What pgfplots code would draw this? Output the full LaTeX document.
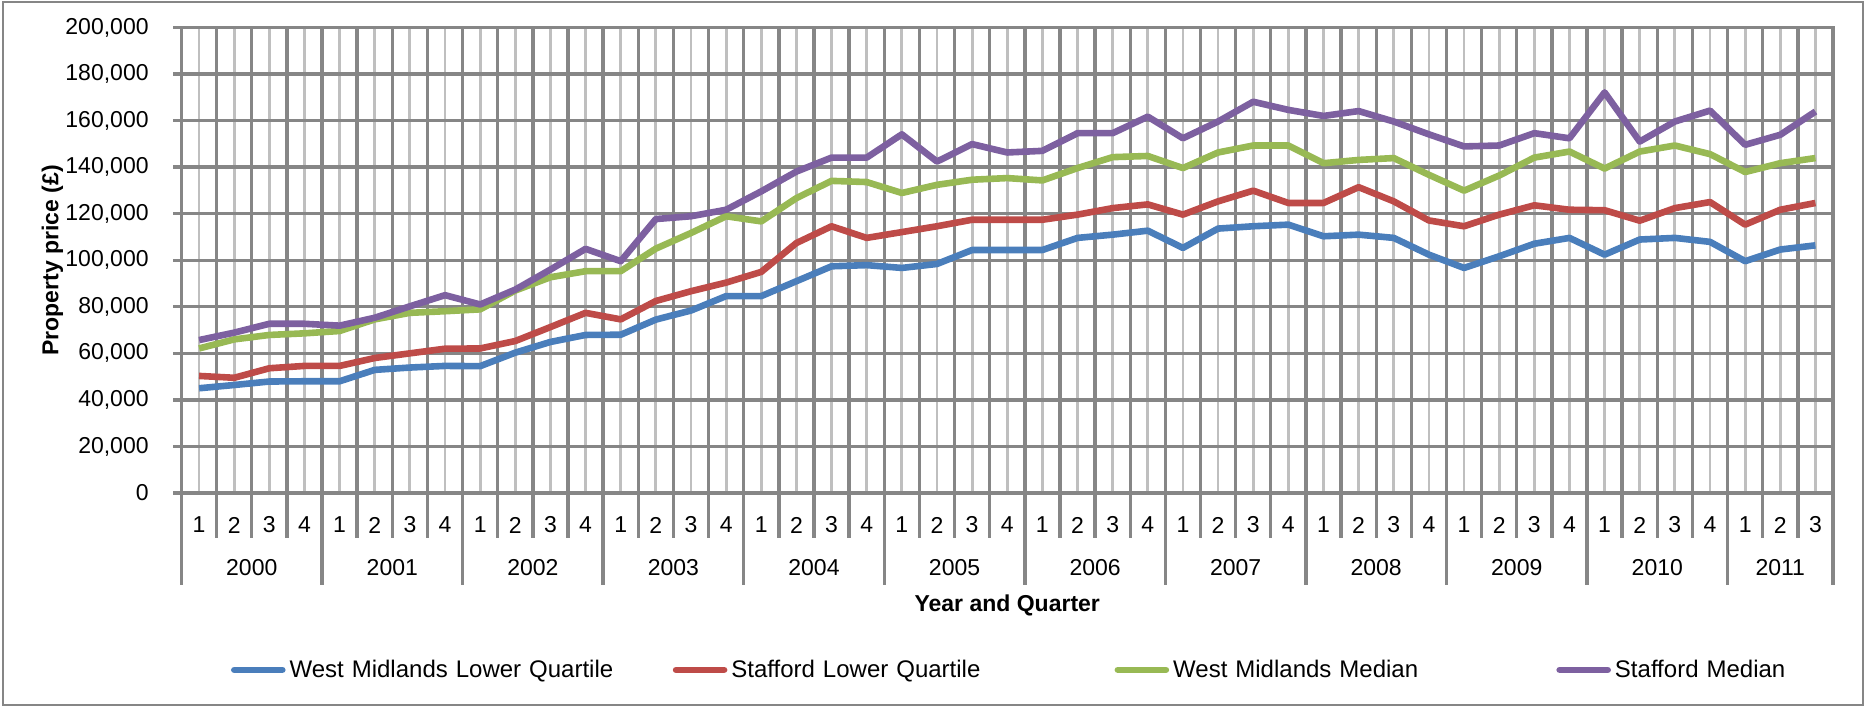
\documentclass[border=0pt]{standalone}
\usepackage{fontspec}
\setmainfont{Liberation Sans}
\usepackage{pgfplots}
\usepackage{pgfplotstable}
\pgfplotsset{compat=1.18}
\definecolor{cBlue}{HTML}{4A7EBB}
\definecolor{cRed}{HTML}{BE4B48}
\definecolor{cGreen}{HTML}{98B954}
\definecolor{cPurple}{HTML}{7D60A0}
\definecolor{gridDark}{HTML}{868686}
\definecolor{gridLight}{HTML}{BFBFBF}

\pgfplotstableread{
i wmlq slq wmmed smed
0 45000 50300 62100 65700
1 46400 49500 66000 68900
2 47900 53600 67900 72700
3 48000 54600 68600 72700
4 48000 54600 69600 71900
5 52900 58000 74600 75300
6 53900 60000 77400 80200
7 54600 62000 78100 85000
8 54500 62100 78900 81000
9 60300 65300 87000 87400
10 64900 71300 92700 96000
11 67900 77400 95300 104900
12 68000 74600 95300 99600
13 74500 82500 105000 117700
14 78400 86700 111700 118900
15 84600 90400 118900 121700
16 84600 95000 116700 129600
17 91000 107400 126700 138100
18 97400 114600 134100 144100
19 97900 109600 133600 144100
20 96700 112100 128900 154100
21 98400 114600 132400 142400
22 104400 117400 134600 149900
23 104400 117400 135300 146300
24 104400 117400 134300 147000
25 109600 119600 139600 154600
26 111000 122400 144300 154600
27 112700 124000 144800 161700
28 105300 119600 139600 152400
29 113600 125300 146300 159600
30 114600 129900 149300 168100
31 115300 124600 149300 164600
32 110300 124600 141700 162000
33 111000 131400 143100 164100
34 109600 125300 143900 159600
35 102400 117100 136700 154100
36 96700 114600 129900 148900
37 101700 119600 136400 149300
38 107100 123600 144100 154600
39 109600 121700 146700 152400
40 102400 121500 139400 172100
41 108900 117000 146700 151000
42 109600 122400 149300 159600
43 107900 125000 145600 164300
44 99600 115300 137900 149600
45 104600 121700 141700 153900
46 106400 124600 143900 163900
}\datatable

\begin{document}
\begin{tikzpicture}
\path[use as bounding box] (0,0) rectangle (932.5pt,353.5pt);
\draw[gridDark, line width=1.3pt] (1.5pt,1pt) rectangle (931.5pt,352.5pt);
\begin{axis}[
  at={(90.75pt,107pt)}, anchor=south west,
  scale only axis, width=825.75pt, height=232.75pt,
  xmin=-0.5, xmax=46.5, ymin=0, ymax=200000,
  clip mode=individual,
  font=\fontsize{11.5}{13.8}\selectfont,
  /pgf/number format/assume math mode=true,
  xtick={0,...,46},
  xticklabels={1,2,3,4,1,2,3,4,1,2,3,4,1,2,3,4,1,2,3,4,1,2,3,4,1,2,3,4,1,2,3,4,1,2,3,4,1,2,3,4,1,2,3,4,1,2,3},
  minor xtick={0,...,46},
  xminorgrids,
  minor grid style={draw=gridLight, line width=1.4pt},
  minor tick length=0pt,
  xtick style={draw=none},
  ytick={0,20000,...,200000},
  ymajorgrids,
  major grid style={draw=gridDark, line width=1.7pt},
  ytick pos=left,
  tick align=outside,
  major tick length=4pt,
  ytick style={draw=gridDark, line width=1.7pt},
  scaled y ticks=false,
  yticklabel style={/pgf/number format/fixed, /pgf/number format/1000 sep={,}, inner sep=0pt, anchor=east, xshift=-12.25pt},
  xticklabel style={inner sep=0pt, anchor=center, yshift=-12pt},
  axis line style={draw=gridDark, line width=1.7pt},
  every axis x label/.style={at={(axis description cs:0.5,0)}, anchor=center, yshift=-56pt, font=\fontsize{11.5}{13.8}\selectfont\bfseries},
  every axis y label/.style={at={(axis description cs:-0.0781,0.5)}, rotate=90, anchor=center, font=\fontsize{11.5}{13.8}\selectfont\bfseries},
  xlabel={Year and Quarter},
  ylabel={Property price (£)},
  legend columns=4,
  legend style={at={(axis description cs:0.0261,-0.380)}, anchor=west, draw=none, fill=none,
    font=\fontsize{12}{14.4}\selectfont,
    /tikz/every even column/.append style={text width=189.6pt, align=left}},
  legend image code/.code={\draw[#1, line width=3.3pt, line cap=round] (0pt,0pt) -- (24pt,0pt);},
]
% category boundary grid lines and separators
\pgfplotsinvokeforeach{-0.5,3.5,7.5,11.5,15.5,19.5,23.5,27.5,31.5,35.5,39.5,43.5,46.5}{
  \draw[gridDark, line width=1.7pt] (axis cs:#1,200000) -- (axis cs:#1,0) -- ++(0pt,-46pt);
}
\pgfplotsinvokeforeach{0.5,1.5,2.5,4.5,5.5,6.5,8.5,9.5,10.5,12.5,13.5,14.5,16.5,17.5,18.5,20.5,21.5,22.5,24.5,25.5,26.5,28.5,29.5,30.5,32.5,33.5,34.5,36.5,37.5,38.5,40.5,41.5,42.5,44.5,45.5}{
  \draw[gridDark, line width=1.7pt] (axis cs:#1,200000) -- (axis cs:#1,0) -- ++(0pt,-22.5pt);
}
\addplot[cBlue, line width=3.3pt, line join=round] table[x=i, y=wmlq] {\datatable};
\addlegendentry{West Midlands Lower Quartile}
\addplot[cRed, line width=3.3pt, line join=round] table[x=i, y=slq] {\datatable};
\addlegendentry{Stafford Lower Quartile}
\addplot[cGreen, line width=3.3pt, line join=round] table[x=i, y=wmmed] {\datatable};
\addlegendentry{West Midlands Median}
\addplot[cPurple, line width=3.3pt, line join=round] table[x=i, y=smed] {\datatable};
\addlegendentry{Stafford Median}
% year group labels
\node at (axis cs:1.5,0) [yshift=-37.5pt] {2000};
\node at (axis cs:5.5,0) [yshift=-37.5pt] {2001};
\node at (axis cs:9.5,0) [yshift=-37.5pt] {2002};
\node at (axis cs:13.5,0) [yshift=-37.5pt] {2003};
\node at (axis cs:17.5,0) [yshift=-37.5pt] {2004};
\node at (axis cs:21.5,0) [yshift=-37.5pt] {2005};
\node at (axis cs:25.5,0) [yshift=-37.5pt] {2006};
\node at (axis cs:29.5,0) [yshift=-37.5pt] {2007};
\node at (axis cs:33.5,0) [yshift=-37.5pt] {2008};
\node at (axis cs:37.5,0) [yshift=-37.5pt] {2009};
\node at (axis cs:41.5,0) [yshift=-37.5pt] {2010};
\node at (axis cs:45,0) [yshift=-37.5pt] {2011};
\end{axis}
\end{tikzpicture}
\end{document}
